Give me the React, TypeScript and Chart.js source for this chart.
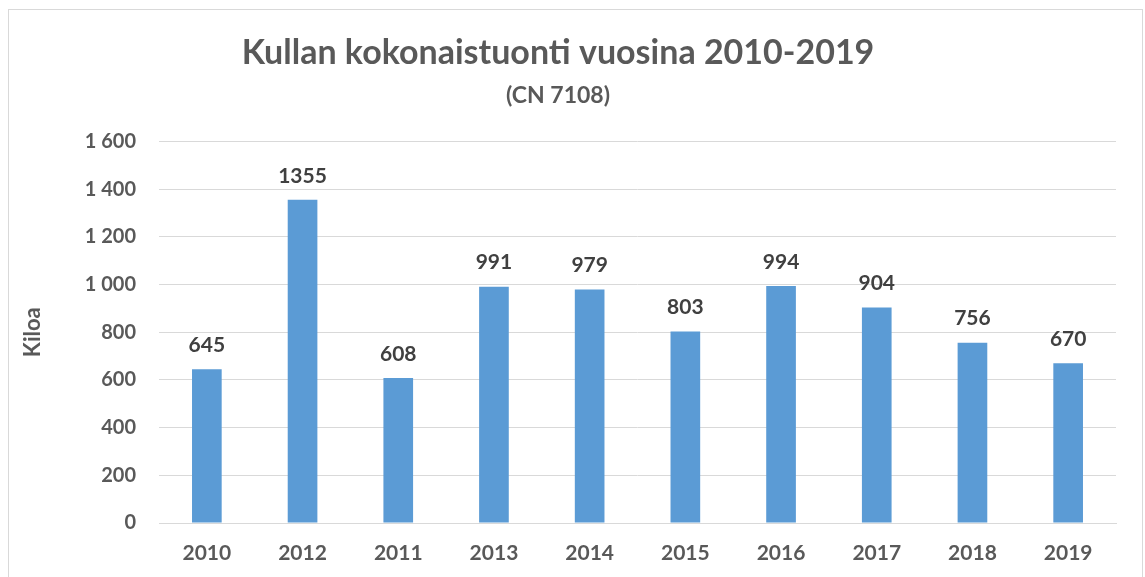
import React, { useEffect, useRef } from "react";
import { Chart, registerables } from "chart.js";

Chart.register(...registerables);

const categories = ["2010", "2012", "2011", "2013", "2014", "2015", "2016", "2017", "2018", "2019"];
const values = [645, 1355, 608, 991, 979, 803, 994, 904, 756, 670];
const yMin = 0;
const yMax = 1600;
const yStep = 200;
const titleText = "Kullan kokonaistuonti vuosina 2010-2019";
const subtitleText = "(CN 7108)";
const yAxisTitle = "Kiloa";

const FONT = "Lato, 'Open Sans', sans-serif";
const TEXT = "#595959";

const dataLabels = {
  id: "dataLabels",
  afterDatasetsDraw(chart: any) {
    const ctx = chart.ctx;
    const meta = chart.getDatasetMeta(0);
    ctx.save();
    ctx.font = `bold 21px ${FONT}`;
    ctx.fillStyle = "#404040";
    ctx.textAlign = "center";
    ctx.textBaseline = "middle";
    meta.data.forEach((el: any, i: number) => {
      ctx.fillText(String(chart.data.datasets[0].data[i]), el.x, el.y - 24);
    });
    ctx.restore();
  },
};

export default function App() {
  const ref = useRef<HTMLCanvasElement>(null);
  useEffect(() => {
    if (!ref.current) return;
    const chart = new Chart(ref.current, {
      type: "bar",
      data: {
        labels: categories,
        datasets: [
          {
            data: values,
            backgroundColor: "#5B9BD5",
            borderWidth: 0,
            barPercentage: 0.31,
            categoryPercentage: 1,
          },
        ],
      },
      options: {
        responsive: false,
        animation: false,
        devicePixelRatio: 1,
        layout: { padding: { left: 0, right: 29, top: 0, bottom: 0 } },
        plugins: {
          legend: { display: false },
          tooltip: { enabled: false },
          title: {
            display: true,
            text: titleText,
            color: TEXT,
            font: { family: FONT, size: 34, weight: "bold", lineHeight: 1.2 },
            padding: { top: 33, bottom: 0 },
          },
          subtitle: {
            display: true,
            text: subtitleText,
            color: TEXT,
            font: { family: FONT, size: 23, weight: "bold", lineHeight: 1.2 },
            padding: { top: 8, bottom: 32 },
          },
        },
        scales: {
          x: {
            grid: { display: false, drawTicks: false },
            border: { display: true, color: "#d9d9d9", width: 1 },
            ticks: {
              color: TEXT,
              font: { family: FONT, size: 21, weight: "bold" },
              padding: 18,
              maxRotation: 0,
            },
            afterFit(scale: any) {
              scale.height = 54;
            },
          },
          y: {
            min: yMin,
            max: yMax,
            grid: { color: "#d9d9d9", lineWidth: 1, drawTicks: false },
            border: { display: false },
            ticks: {
              stepSize: yStep,
              color: TEXT,
              font: { family: FONT, size: 20, weight: "bold" },
              padding: 23,
              callback: (v: any) => String(v).replace(/\B(?=(\d{3})+(?!\d))/g, " "),
            },
            title: {
              display: true,
              text: yAxisTitle,
              color: TEXT,
              font: { family: FONT, size: 22, weight: "bold", lineHeight: 1.2 },
              padding: { top: 20, bottom: 0 },
            },
            afterFit(scale: any) {
              scale.width = 159;
            },
          },
        },
      },
      plugins: [dataLabels],
    });
    return () => chart.destroy();
  }, []);

  return (
    <div style={{ position: "absolute", left: 0, top: 0, width: 1145, height: 577, overflow: "hidden", background: "#fff" }}>
      <div
        style={{
          position: "absolute",
          left: 8,
          top: 9,
          width: 1135,
          height: 600,
          borderLeft: "1px solid #d9d9d9",
          borderTop: "1px solid #d9d9d9",
          borderRight: "1px solid #d9d9d9",
          boxSizing: "border-box",
        }}
      />
      <canvas ref={ref} width={1145} height={577} style={{ position: "absolute", left: 0, top: 0 }} />
    </div>
  );
}
